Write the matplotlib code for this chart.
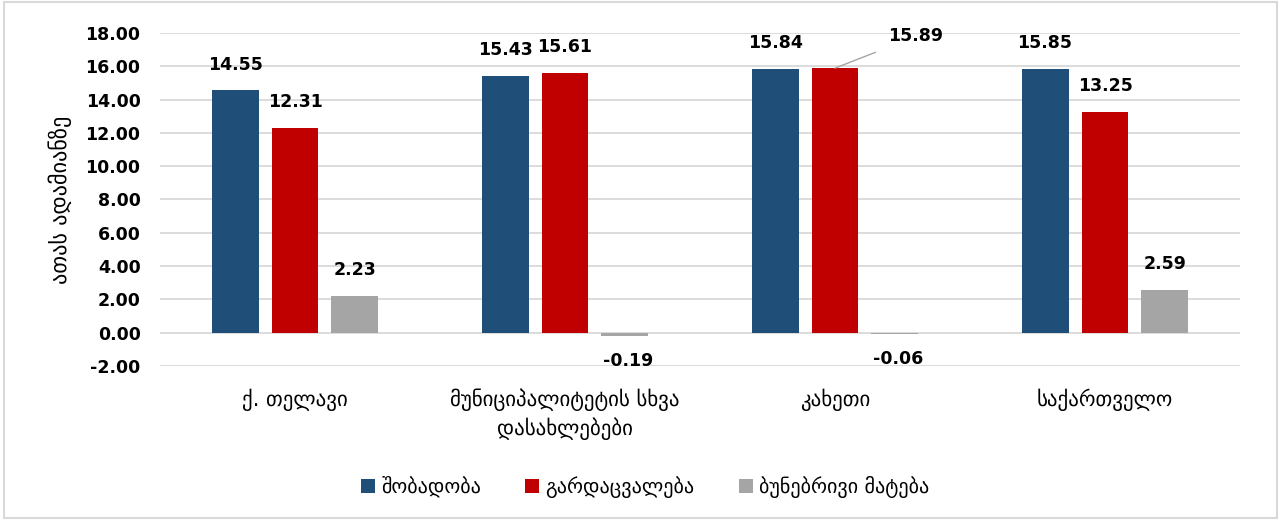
import numpy as np
import matplotlib.pyplot as plt
from matplotlib.patches import Rectangle

# data
categories = ["ქ. თელავი", "მუნიციპალიტეტის სხვა\nდასახლებები", "კახეთი", "საქართველო"]
births = [14.55, 15.43, 15.84, 15.85]
deaths = [12.31, 15.61, 15.89, 13.25]
natural = [2.23, -0.19, -0.06, 2.59]
series_names = ["შობადობა", "გარდაცვალება", "ბუნებრივი მატება"]
colors = ["#1F4E79", "#C00000", "#A5A5A5"]
y_label = "ათას ადამიანზე"
y_ticks = np.arange(-2, 18.01, 2)

plt.rcParams['font.family'] = ['DejaVu Sans']

fig = plt.figure(figsize=(12.81, 5.2), dpi=100)
ax = fig.add_axes([160 / 1281, (520 - 366) / 520, 1080 / 1281, (366 - 33) / 520])

x = np.arange(len(categories))
w, step = 0.174, 0.222
all_series = [births, deaths, natural]
for i, (vals, c, name) in enumerate(zip(all_series, colors, series_names)):
    xs = x + (i - 1) * step
    ax.bar(xs, vals, w, color=c, label=name, zorder=3)
    for j, (xi, v) in enumerate(zip(xs, vals)):
        if name == series_names[1] and j == 2:
            # label moved aside with a leader line
            ax.annotate(f"{v:.2f}", xy=(xi, v), xytext=(xi + 0.3, v + 1.9),
                        ha="center", va="center", fontsize=12.5, fontweight="bold",
                        arrowprops=dict(arrowstyle="-", color="#A5A5A5", lw=1,
                                        shrinkA=8, shrinkB=0))
        elif v < 0:
            ax.text(xi + 0.01, v - 1.5, f"{v:.2f}", ha="center", va="center",
                    fontsize=12.5, fontweight="bold")
        else:
            ax.text(xi, v + 1.55, f"{v:.2f}", ha="center", va="center",
                    fontsize=12.5, fontweight="bold")

ax.set_xlim(-0.5, len(categories) - 0.5)
ax.set_ylim(-2, 18)
ax.set_yticks(y_ticks)
ax.set_yticklabels([f"{t:.2f}" for t in y_ticks], fontsize=12.5, fontweight="bold")
ax.grid(axis="y", color="#D9D9D9", lw=1.3, zorder=0)
ax.tick_params(axis="both", length=0)
ax.tick_params(axis="y", pad=14)
ax.set_xticks(x)
ax.set_xticklabels(categories, fontsize=15, linespacing=1.4)
ax.tick_params(axis="x", pad=16)
for s in ax.spines.values():
    s.set_visible(False)
ax.set_ylabel(y_label, fontsize=16, labelpad=10)

ax.legend(loc="center", bbox_to_anchor=(645 / 1281, 1 - 487 / 520),
          bbox_transform=fig.transFigure, ncol=3, frameon=False, fontsize=14.5,
          handlelength=0.7, handleheight=0.7, handletextpad=0.3, columnspacing=2.2)

fig.patches.append(Rectangle((0.003, 0.004), 0.994, 0.992, transform=fig.transFigure,
                             fill=False, edgecolor="#D9D9D9", lw=1.5))

fig.savefig("out.png", dpi=100)
